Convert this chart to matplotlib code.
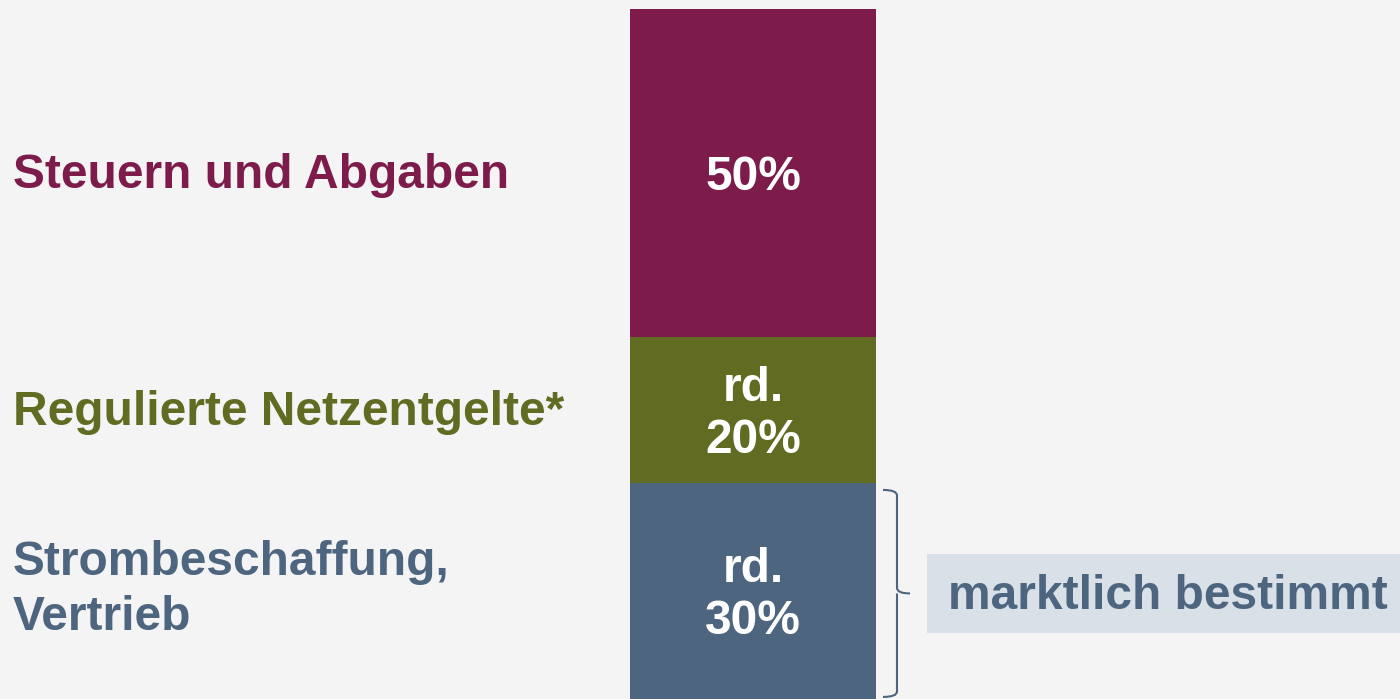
import matplotlib
matplotlib.use('Agg')
import matplotlib.pyplot as plt
from matplotlib.patches import Rectangle, PathPatch
from matplotlib.path import Path

plt.rcParams['font.family'] = ['Liberation Sans', 'DejaVu Sans']

# segments bottom -> top, heights (share of the price)
categories = ['Strombeschaffung,\nVertrieb', 'Regulierte Netzentgelte*', 'Steuern und Abgaben']
shares = [31.3, 21.2, 47.5]
bar_labels = ['rd.\n30%', 'rd.\n20%', '50%']
colors = ['#4e6580', '#616b22', '#7d1c4a']
note = 'marktlich bestimmt'

bg = '#f4f4f4'
fs = 34.5
fig = plt.figure(figsize=(14, 6.99), dpi=100, facecolor=bg)
ax = fig.add_axes([0, 0, 1, 1])
ax.set_facecolor(bg)
ax.set_xlim(0, 1400)
ax.set_ylim(0, sum(shares) * 699 / 690)
ax.axis('off')

bottom = 0
for cat, val, lab, c in zip(categories, shares, bar_labels, colors):
    ax.bar(753, val, width=246, bottom=bottom, color=c, linewidth=0)
    mid = bottom + val / 2
    ax.text(753, mid - 0.6, lab, ha='center', va='center', color='white',
            fontsize=fs, fontweight='bold', linespacing=1.2)
    # multi-line label sits a little higher
    dy = -0.4 + 0.6 * cat.count('\n')
    ax.text(13, mid + dy, cat, ha='left', va='center', color=c,
            fontsize=fs, fontweight='bold', linespacing=1.29)
    bottom += val

# brace next to the market-based part
y0 = 0.3
y1 = shares[0] - 1.0
ym = (y0 + y1) / 2
xa, xb, xt = 883, 897, 910
k = 0.8
verts = [(xa, y1), (xb, y1), (xb, y1 - k), (xb, ym + k), (xb, ym), (xt, ym),
         (xb, ym), (xb, ym - k), (xb, y0 + k), (xb, y0), (xa, y0)]
codes = [Path.MOVETO, Path.CURVE3, Path.CURVE3, Path.LINETO, Path.CURVE3, Path.CURVE3,
         Path.MOVETO, Path.LINETO, Path.LINETO, Path.CURVE3, Path.CURVE3]
ax.add_patch(PathPatch(Path(verts, codes), fill=False, edgecolor=colors[0], lw=1.5))

ax.add_patch(Rectangle((927, ym - 5.7), 500, 11.4, facecolor='#d9e0e8', edgecolor='none'))
ax.text(948, ym - 0.4, note, ha='left', va='center', color=colors[0],
        fontsize=fs, fontweight='bold')

fig.savefig('out.png', dpi=100, facecolor=bg)
